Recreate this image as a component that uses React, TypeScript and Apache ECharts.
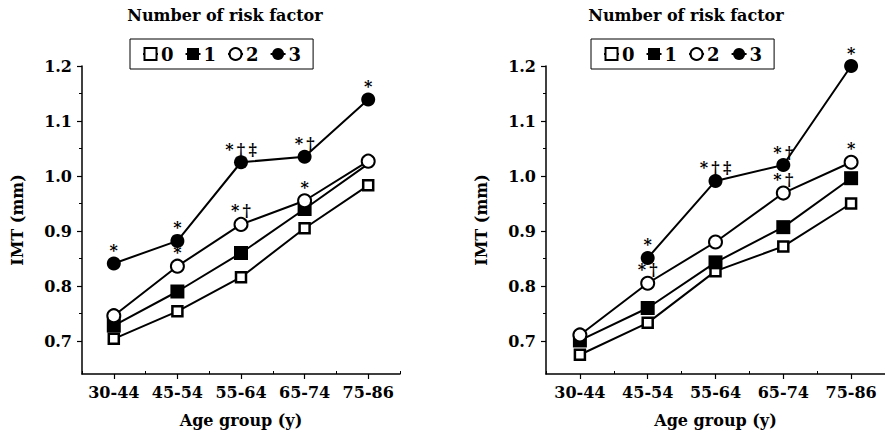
import React, { useEffect, useRef } from 'react';
import * as echarts from 'echarts';

const categories = ['30-44', '45-54', '55-64', '65-74', '75-86'];
const riskGroups = ['0', '1', '2', '3'];
const yTickValues = [0.7, 0.8, 0.9, 1.0, 1.1, 1.2];
const yMinorTickValues = [0.75, 0.85, 0.95, 1.05, 1.15];
const chartTitle = 'Number of risk factor';
const xName = 'Age group (y)';
const yName = 'IMT (mm)';

const leftRisk0 = [0.704, 0.754, 0.816, 0.905, 0.983];
const leftRisk1 = [0.728, 0.79, 0.86, 0.94, 1.022];
const leftRisk2 = [0.746, 0.836, 0.912, 0.955, 1.027];
const leftRisk3 = [0.841, 0.882, 1.025, 1.035, 1.139];

const rightRisk0 = [0.675, 0.733, 0.827, 0.872, 0.95];
const rightRisk1 = [0.701, 0.76, 0.843, 0.907, 0.996];
const rightRisk2 = [0.711, 0.805, 0.88, 0.969, 1.025];
const rightRisk3 = [null, 0.851, 0.991, 1.02, 1.2];

// significance marks (text) drawn above points
const leftMarks2 = ['', '*', '*\u2009†', '*', ''];
const leftMarks3 = ['*', '*', '*\u2009†\u2009‡', '*\u2009†', '*'];
const rightMarks2 = ['', '*\u2009†', '', '*\u2009†', '*'];
const rightMarks3 = ['', '*', '*\u2009†\u2009‡', '*\u2009†', '*'];

// points whose marker is hidden behind another marker in the original
const leftRisk1Occluded = [false, false, false, false, true];

const FONT = '"DejaVu Serif", serif';

const symbolStyles = [
  { symbol: 'rect', symbolSize: 10, itemStyle: { color: '#fff', borderColor: '#000', borderWidth: 2.5 } },
  { symbol: 'rect', symbolSize: 14, itemStyle: { color: '#000', borderColor: '#000', borderWidth: 0 } },
  { symbol: 'circle', symbolSize: 13, itemStyle: { color: '#fff', borderColor: '#000', borderWidth: 2 } },
  { symbol: 'circle', symbolSize: 14, itemStyle: { color: '#000', borderColor: '#000', borderWidth: 0 } },
];

function makeSeries(values: (number | null)[], idx: number, grid: number, marks?: string[], occluded?: boolean[]) {
  const st = symbolStyles[idx];
  return {
    type: 'line',
    name: riskGroups[idx],
    xAxisIndex: grid * 2,
    yAxisIndex: grid * 2,
    color: '#000',
    symbol: st.symbol,
    symbolSize: st.symbolSize,
    itemStyle: st.itemStyle,
    lineStyle: { color: '#000', width: 2 },
    connectNulls: false,
    clip: false,
    z: 2 + idx,
    data: values.map((v, i) => {
      const m = marks ? marks[i] : '';
      const item: any = {
        value: v,
        label: m
          ? {
              show: true,
              formatter: m,
              position: 'top',
              distance: -2,
              color: '#000',
              textBorderWidth: 0,
              fontFamily: FONT,
              fontWeight: 'bold',
              fontSize: 16,
            }
          : { show: false },
      };
      if (occluded && occluded[i]) item.symbolSize = 8;
      return item;
    }),
  };
}

function makeGrid(left: number, top: number, width: number, height: number) {
  return { left, top, width, height, containLabel: false };
}

function makeXAxes(gridIndex: number) {
  return [
    {
      type: 'category',
      gridIndex,
      position: 'bottom',
      data: categories,
      boundaryGap: true,
      name: xName,
      nameLocation: 'middle',
      nameGap: 38,
      nameTextStyle: { fontFamily: FONT, fontWeight: 'bold', fontSize: 16, color: '#000' },
      axisLine: { lineStyle: { color: '#000', width: 1.5 }, onZero: false },
      axisTick: { show: true, alignWithLabel: true, interval: 0, length: 5, lineStyle: { color: '#000', width: 1.2 } },
      axisLabel: { interval: 0, fontFamily: FONT, fontWeight: 'bold', fontSize: 16, color: '#000', margin: 10 },
      splitLine: { show: false },
    },
    {
      type: 'category',
      gridIndex,
      position: 'bottom',
      data: categories,
      boundaryGap: true,
      axisLine: { show: false, onZero: false },
      axisTick: { show: true, inside: true, alignWithLabel: false, interval: 0, length: 3, lineStyle: { color: '#000', width: 1 } },
      axisLabel: { show: false },
      splitLine: { show: false },
    },
  ];
}

function makeYAxes(gridIndex: number, nameGap: number) {
  return [
    {
      type: 'value',
      gridIndex,
      position: 'left',
      min: 0.64,
      max: 1.2,
      name: yName,
      nameLocation: 'middle',
      nameGap,
      nameRotate: 90,
      nameTextStyle: { fontFamily: FONT, fontWeight: 'bold', fontSize: 16, color: '#000' },
      axisLine: { show: true, onZero: false, lineStyle: { color: '#000', width: 1.5 } },
      axisTick: { show: true, customValues: yTickValues, length: 5, lineStyle: { color: '#000', width: 1.2 } },
      axisLabel: {
        customValues: yTickValues,
        formatter: (v: number) => v.toFixed(1),
        fontFamily: FONT,
        fontWeight: 'bold',
        fontSize: 16,
        color: '#000',
        margin: 10,
      },
      splitLine: { show: false },
    },
    {
      type: 'value',
      gridIndex,
      position: 'left',
      min: 0.64,
      max: 1.2,
      axisLine: { show: false, onZero: false },
      axisTick: { show: true, customValues: yMinorTickValues, length: 3, lineStyle: { color: '#000', width: 1 } },
      axisLabel: { show: false, customValues: yMinorTickValues },
      splitLine: { show: false },
    },
  ];
}

function makeLegend(left: number, top: number) {
  return {
    left,
    top,
    orient: 'horizontal',
    data: riskGroups,
    itemWidth: 15,
    itemHeight: 15,
    itemGap: 11,
    borderColor: '#000',
    borderWidth: 1,
    padding: [6, 12],
    selectedMode: false,
    textStyle: { fontFamily: FONT, fontWeight: 'bold', fontSize: 18, color: '#000', padding: [0, 0, 0, -2] },
  };
}

const titleStyle = {
  text: chartTitle,
  fontFamily: FONT,
  fontWeight: 'bold',
  fontSize: 16,
  fill: '#000',
  align: 'center',
  verticalAlign: 'middle',
};

export default function App() {
  const ref = useRef<HTMLDivElement>(null);
  useEffect(() => {
    if (!ref.current) return;
    const chart = echarts.init(ref.current, undefined, { renderer: 'svg' });
    const option: any = {
      animation: false,
      backgroundColor: '#fff',
      grid: [makeGrid(82, 66, 318, 308), makeGrid(546, 66, 340, 308)],
      xAxis: [...makeXAxes(0), ...makeXAxes(1)],
      yAxis: [...makeYAxes(0, 57), ...makeYAxes(1, 57)],
      legend: [makeLegend(130, 39), makeLegend(591, 39)],
      graphic: [
        { type: 'text', x: 225, y: 15, style: { ...titleStyle } },
        { type: 'text', x: 686, y: 15, style: { ...titleStyle } },
      ],
      series: [
        makeSeries(leftRisk0, 0, 0),
        makeSeries(leftRisk1, 1, 0, undefined, leftRisk1Occluded),
        makeSeries(leftRisk2, 2, 0, leftMarks2),
        makeSeries(leftRisk3, 3, 0, leftMarks3),
        makeSeries(rightRisk0, 0, 1),
        makeSeries(rightRisk1, 1, 1),
        makeSeries(rightRisk2, 2, 1, rightMarks2),
        makeSeries(rightRisk3, 3, 1, rightMarks3),
      ],
    };
    chart.setOption(option);
    return () => chart.dispose();
  }, []);
  return <div ref={ref} style={{ position: 'absolute', left: 0, top: 0, width: 885, height: 433 }} />;
}
